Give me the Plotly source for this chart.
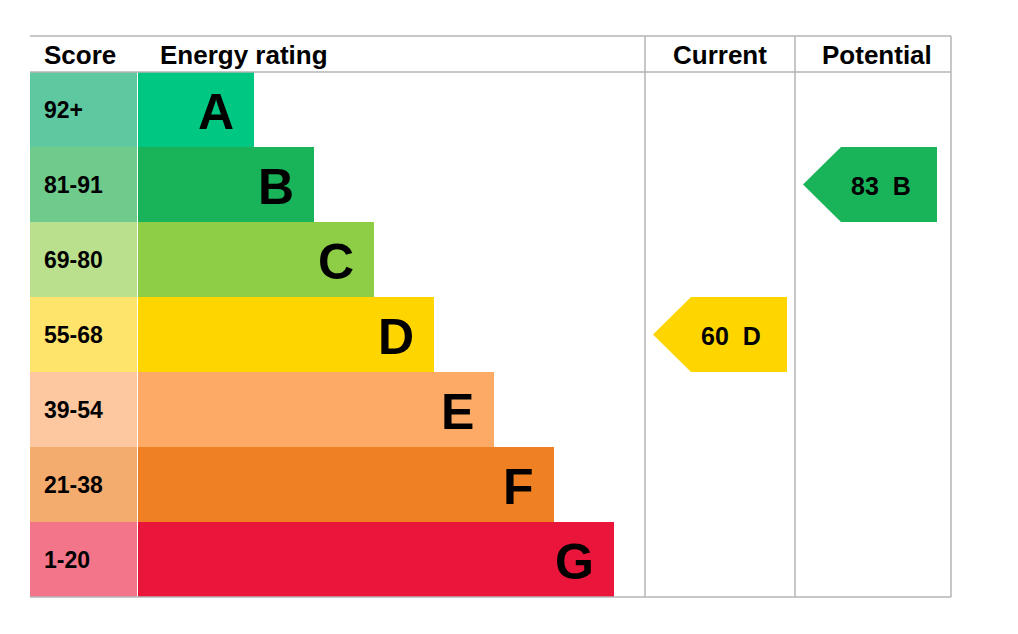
import plotly.graph_objects as go

bands = ["A", "B", "C", "D", "E", "F", "G"]
scores = ["92+", "81-91", "69-80", "55-68", "39-54", "21-38", "1-20"]
bar_colors = ["#00c781", "#19b459", "#8dce46", "#ffd500", "#fcaa65", "#ef8023", "#e9153b"]
score_colors = ["#5ec9a0", "#6fcb8c", "#bbe08d", "#ffe46b", "#fdc79f", "#f4ab6e", "#f2758a"]
bar_ends = [246, 306, 366, 426, 486, 546, 606]
current = {"score": 60, "band": "D"}
potential = {"score": 83, "band": "B"}
headers = ["Score", "Energy rating", "Current", "Potential"]

F = "Liberation Sans, Arial, sans-serif"
top, hh, rh = 28, 36, 75
y0 = top + hh
shapes, ann = [], []
for i, b in enumerate(bands):
    ya, yb = y0 + i * rh, y0 + (i + 1) * rh
    shapes.append(dict(type="rect", x0=22, x1=129, y0=ya, y1=yb, fillcolor=score_colors[i], line_width=0, layer="below"))
    shapes.append(dict(type="rect", x0=130, x1=bar_ends[i], y0=ya, y1=yb, fillcolor=bar_colors[i], line_width=0, layer="below"))
    ann.append(dict(x=34, y=(ya + yb) / 2, text="<b>%s</b>" % scores[i], showarrow=False, xanchor="left",
                    font=dict(family=F, size=23, color="black")))
    ann.append(dict(x=bar_ends[i] - 18, y=(ya + yb) / 2 + 2, text="<b>%s</b>" % b, showarrow=False, xanchor="right",
                    font=dict(family=F, size=50, color="black")))
bot = y0 + 7 * rh
grey = "#b4b4b4"
for y in [top, y0, bot]:
    shapes.append(dict(type="line", x0=22, x1=943, y0=y, y1=y, line=dict(color=grey, width=1.5)))
for x in [637, 787, 943]:
    shapes.append(dict(type="line", x0=x, x1=x, y0=top, y1=bot, line=dict(color=grey, width=1.5)))
for x, t, a in [(34, headers[0], "left"), (150, headers[1], "left"), (712, headers[2], "center"), (869, headers[3], "center")]:
    ann.append(dict(x=x, y=top + hh / 2 + 1, text="<b>%s</b>" % t, showarrow=False, xanchor=a,
                    font=dict(family=F, size=26, color="black")))

fig = go.Figure()
for rec, xl in [(current, 645), (potential, 795)]:
    i = bands.index(rec["band"])
    ya, yb = y0 + i * rh, y0 + (i + 1) * rh
    xr = xl + 134
    fig.add_trace(go.Scatter(x=[xl, xl + 38, xr, xr, xl + 38, xl], y=[(ya + yb) / 2, ya, ya, yb, yb, (ya + yb) / 2],
                             fill="toself", fillcolor=bar_colors[i], line_width=0, mode="lines", hoverinfo="skip"))
    ann.append(dict(x=xl + 78, y=(ya + yb) / 2 + 1, text="<b>%d  %s</b>" % (rec["score"], rec["band"]), showarrow=False,
                    font=dict(family=F, size=25, color="black")))

fig.update_layout(width=1018, height=634, margin=dict(l=0, r=0, t=0, b=0), showlegend=False,
                  plot_bgcolor="white", paper_bgcolor="white", shapes=shapes, annotations=ann,
                  xaxis=dict(range=[0, 1018], visible=False, fixedrange=True),
                  yaxis=dict(range=[634, 0], visible=False, fixedrange=True))
fig.write_html("out.html")
